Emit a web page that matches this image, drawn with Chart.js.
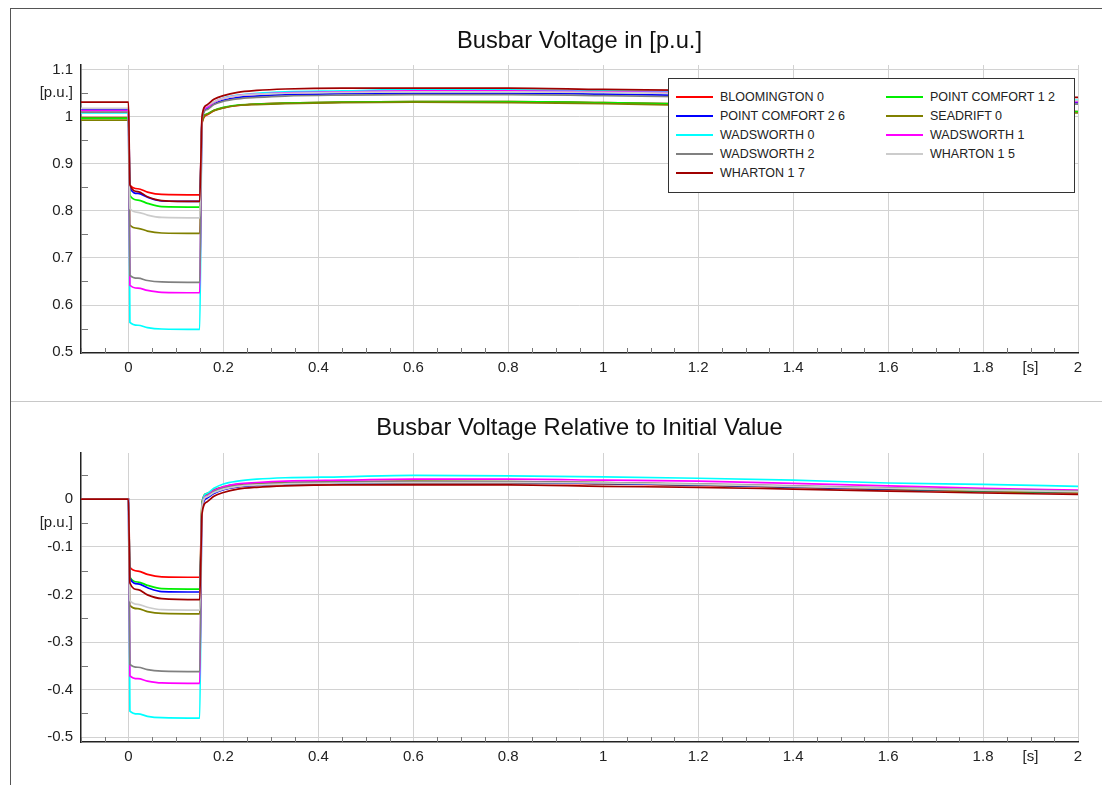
<!DOCTYPE html>
<html lang="en">
<head>
  <meta charset="utf-8" />
  <title>Busbar Voltage</title>
  <style>
    body {
      margin: 0;
      background: #fff;
      font-family: "Liberation Sans", Arial, sans-serif;
    }
    #page {
      position: relative;
      width: 1102px;
      height: 785px;
      overflow: hidden;
    }
    .frame {
      position: absolute;
      left: 10px; top: 8px; right: 0; bottom: 0;
      border-left: 1px solid #555;
      border-top: 1px solid #555;
    }
    .sep {
      position: absolute;
      left: 11px; right: 0; top: 401px;
      height: 1px;
      background: #c8c8c8;
    }
    canvas {
      position: absolute;
      left: 0;
    }
    #topChart { top: 0; }
    #bottomChart { top: 402px; }
    .legend {
      position: absolute;
      left: 668px; top: 78px;
      width: 407px; height: 115px;
      box-sizing: border-box;
      border: 1px solid #333;
      background: #fff;
      padding: 8px 0 0 7px;
      display: grid;
      grid-template-columns: 210px 185px;
      grid-auto-rows: 19px;
      font-size: 12.5px;
      color: #222;
      z-index: 2;
    }
    .legend .item {
      display: flex;
      align-items: center;
      white-space: nowrap;
    }
    .legend .swatch {
      width: 37px;
      height: 2px;
      margin-right: 7px;
    }
  </style>
</head>
<body>
  <div id="page">
    <div class="frame"></div>
    <div class="sep"></div>
    <canvas id="topChart" width="1102" height="395"></canvas>
    <canvas id="bottomChart" width="1102" height="383"></canvas>
    <div class="legend" id="legend"></div>
  </div>

  <script src="https://cdn.jsdelivr.net/npm/chart.js@4"></script>
  <script>
    // time axis [s], shared by all traces
    const time = [-0.1, 0, 0.003, 0.02, 0.04, 0.07, 0.15, 0.155, 0.165, 0.18, 0.2, 0.23, 0.27, 0.33, 0.45, 0.6, 0.8, 1.0, 1.2, 1.4, 1.6, 1.8, 2.0];

    // busbar voltages [p.u.]
    const bloomington0    = [0.998, 0.998, 0.855, 0.847, 0.840, 0.835, 0.834, 0.986, 1.004, 1.013, 1.019, 1.024, 1.027, 1.029, 1.031, 1.032, 1.032, 1.030, 1.027, 1.023, 1.018, 1.014, 1.011];
    const pointComfort12  = [0.997, 0.997, 0.833, 0.823, 0.816, 0.809, 0.808, 0.989, 1.006, 1.014, 1.020, 1.025, 1.027, 1.029, 1.031, 1.032, 1.032, 1.030, 1.027, 1.023, 1.018, 1.014, 1.011];
    const pointComfort26  = [1.015, 1.015, 0.849, 0.837, 0.829, 0.821, 0.820, 0.995, 1.017, 1.027, 1.035, 1.041, 1.044, 1.047, 1.049, 1.050, 1.050, 1.048, 1.045, 1.041, 1.036, 1.033, 1.030];
    const seadrift0       = [0.993, 0.993, 0.770, 0.763, 0.757, 0.753, 0.752, 0.988, 1.005, 1.013, 1.019, 1.024, 1.026, 1.028, 1.030, 1.031, 1.030, 1.028, 1.024, 1.020, 1.015, 1.011, 1.008];
    const wadsworth0      = [1.008, 1.008, 0.563, 0.557, 0.552, 0.549, 0.548, 0.996, 1.020, 1.031, 1.040, 1.046, 1.050, 1.053, 1.055, 1.058, 1.057, 1.055, 1.052, 1.048, 1.042, 1.039, 1.035];
    const wadsworth1      = [1.013, 1.013, 0.642, 0.636, 0.631, 0.627, 0.626, 0.998, 1.020, 1.031, 1.039, 1.045, 1.048, 1.051, 1.053, 1.055, 1.055, 1.053, 1.051, 1.046, 1.041, 1.036, 1.032];
    const wadsworth2      = [1.010, 1.010, 0.663, 0.657, 0.652, 0.649, 0.648, 0.995, 1.015, 1.026, 1.033, 1.038, 1.041, 1.044, 1.046, 1.047, 1.047, 1.045, 1.042, 1.038, 1.034, 1.030, 1.027];
    const wharton15       = [1.018, 1.018, 0.805, 0.797, 0.791, 0.786, 0.785, 1.003, 1.023, 1.032, 1.039, 1.045, 1.048, 1.050, 1.052, 1.053, 1.053, 1.052, 1.049, 1.045, 1.041, 1.037, 1.034];
    const wharton17       = [1.031, 1.031, 0.855, 0.841, 0.830, 0.822, 0.820, 1.001, 1.025, 1.037, 1.045, 1.052, 1.056, 1.059, 1.061, 1.061, 1.061, 1.058, 1.056, 1.052, 1.048, 1.044, 1.041];

    const seriesNames  = ['BLOOMINGTON 0', 'POINT COMFORT 1 2', 'POINT COMFORT 2 6', 'SEADRIFT 0', 'WADSWORTH 0', 'WADSWORTH 1', 'WADSWORTH 2', 'WHARTON 1 5', 'WHARTON 1 7'];
    const seriesColors = ['#ff0000', '#00ee00', '#0000ff', '#808000', '#00ffff', '#ff00ff', '#808080', '#cccccc', '#a00000'];
    const seriesValues = [bloomington0, pointComfort12, pointComfort26, seadrift0, wadsworth0, wadsworth1, wadsworth2, wharton15, wharton17];

    const FONT = '"Liberation Sans", Arial, sans-serif';
    const near = (v, step) => Math.abs(v / step - Math.round(v / step)) < 1e-6;

    // short tick marks inside the plot at the minor steps
    const minorTicks = {
      id: 'minorTicks',
      beforeDatasetsDraw(chart) {
        const { ctx, chartArea: a, scales: { x, y } } = chart;
        ctx.save();
        ctx.strokeStyle = '#777';
        ctx.lineWidth = 1;
        ctx.beginPath();
        for (let i = Math.ceil(x.min / 0.05 - 1e-9); i * 0.05 <= x.max + 1e-9; i++) {
          if (i % 4 === 0) continue;
          const px = Math.round(x.getPixelForValue(i * 0.05)) + 0.5;
          ctx.moveTo(px, a.bottom);
          ctx.lineTo(px, a.bottom - 5);
        }
        for (let i = Math.ceil(y.min / 0.05 - 1e-9); i * 0.05 <= y.max + 1e-9; i++) {
          if (i % 2 === 0) continue;
          const py = Math.round(y.getPixelForValue(i * 0.05)) + 0.5;
          ctx.moveTo(a.left, py);
          ctx.lineTo(a.left + 7, py);
        }
        ctx.stroke();
        ctx.restore();
      }
    };

    // title centred over the plot area rather than the whole canvas
    const plotTitle = {
      id: 'plotTitle',
      afterDraw(chart, args, opts) {
        const { ctx, chartArea: a } = chart;
        ctx.save();
        ctx.fillStyle = '#111';
        ctx.font = `23.7px ${FONT}`;
        ctx.textAlign = 'center';
        ctx.textBaseline = 'middle';
        ctx.fillText(opts.text, (a.left + a.right) / 2, opts.y);
        ctx.restore();
      }
    };

    function makeChart(canvasId, title, titleY, plotTop, yMin, yMax, unitAt, xHeight, valuesFor) {
      const datasets = seriesValues.map((vals, i) => ({
        label: seriesNames[i],
        data: time.map((t, k) => ({ x: t, y: valuesFor(vals)[k] })),
        borderColor: seriesColors[i],
        backgroundColor: seriesColors[i],
        borderWidth: 1.7,
        pointRadius: 0,
        cubicInterpolationMode: 'monotone',
        order: seriesValues.length - i
      }));

      return new Chart(document.getElementById(canvasId), {
        type: 'line',
        data: { datasets },
        options: {
          responsive: false,
          animation: false,
          layout: { padding: { left: 0, right: 24, top: plotTop, bottom: 0 } },
          plugins: {
            legend: { display: false },
            tooltip: { enabled: false },
            title: { display: false },
            plotTitle: { text: title, y: titleY }
          },
          scales: {
            x: {
              type: 'linear',
              min: -0.1,
              max: 2,
              afterFit(scale) { scale.height = xHeight; },
              border: { color: '#222', width: 1.5 },
              grid: {
                drawTicks: false,
                color: c => (c.tick && near(c.tick.value, 0.2)) ? '#d2d2d2' : 'rgba(0,0,0,0)'
              },
              ticks: {
                stepSize: 0.05,
                autoSkip: false,
                maxRotation: 0,
                includeBounds: false,
                padding: 6,
                color: '#222',
                font: { family: FONT, size: 15 },
                callback: v => near(v, 0.2) ? String(+v.toFixed(1)) : (Math.abs(v - 1.9) < 1e-6 ? '[s]' : '')
              }
            },
            y: {
              min: yMin,
              max: yMax,
              afterFit(scale) { scale.width = 81; },
              border: { color: '#222', width: 1.5 },
              grid: {
                drawTicks: false,
                color: c => (c.tick && near(c.tick.value, 0.1)) ? '#d2d2d2' : 'rgba(0,0,0,0)'
              },
              ticks: {
                stepSize: 0.05,
                autoSkip: false,
                includeBounds: false,
                padding: 8,
                color: '#222',
                font: { family: FONT, size: 15 },
                callback: v => near(v, 0.1) ? String(+v.toFixed(1)) : (Math.abs(v - unitAt) < 1e-6 ? '[p.u.]' : '')
              }
            }
          }
        },
        plugins: [minorTicks, plotTitle]
      });
    }

    makeChart('topChart', 'Busbar Voltage in [p.u.]', 41, 65, 0.498, 1.11, 1.05, 42, vals => vals);
    makeChart('bottomChart', 'Busbar Voltage Relative to Initial Value', 26, 51, -0.51, 0.097, -0.05, 43,
      vals => vals.map(v => +(v - vals[0]).toFixed(4)));

    // legend box, two columns, built from the series lists
    const legend = document.getElementById('legend');
    seriesNames.forEach((name, i) => {
      const item = document.createElement('div');
      item.className = 'item';
      item.innerHTML = `<span class="swatch" style="background:${seriesColors[i]}"></span>${name}`;
      legend.appendChild(item);
    });
  </script>
</body>
</html>
